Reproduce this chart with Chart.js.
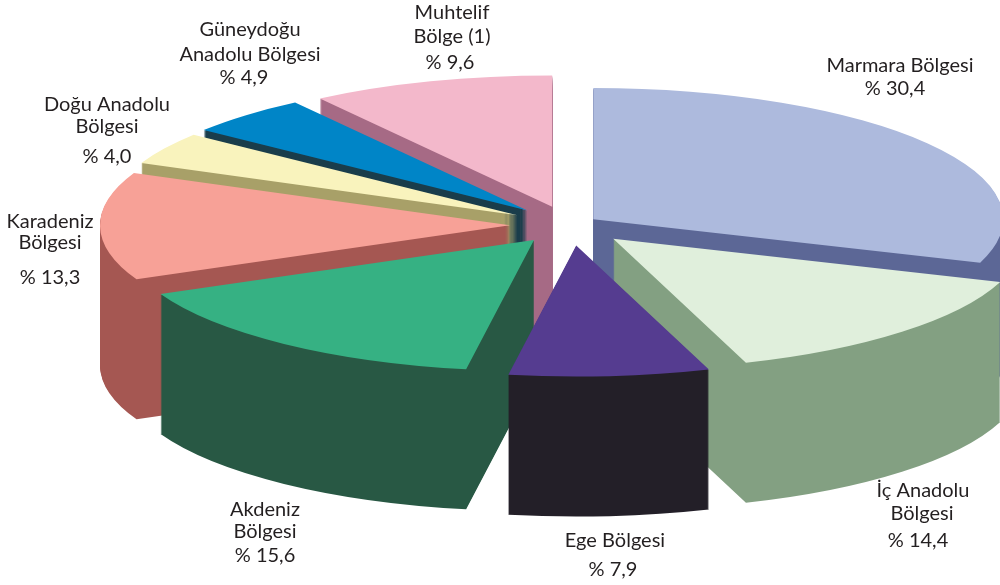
<!DOCTYPE html>
<html>
<head>
<meta charset="utf-8">
<style>html,body{margin:0;padding:0;background:#fff}#wrap{width:1000px;height:585px;position:relative}</style>
<script src="https://cdn.jsdelivr.net/npm/chart.js@4"></script>
</head>
<body>
<div id="wrap"><canvas id="c" width="1000" height="585"></canvas></div>
<script>
const categories = ["Marmara Bölgesi","İç Anadolu Bölgesi","Ege Bölgesi","Akdeniz Bölgesi","Karadeniz Bölgesi","Doğu Anadolu Bölgesi","Güneydoğu Anadolu Bölgesi","Muhtelif Bölge (1)"];
const shares = [30.4,14.4,7.9,15.6,13.3,4.0,4.9,9.6];
const topColors = ["#adbadd","#e0efdc","#553c90","#36b183","#f7a197","#f9f3bd","#0085c7","#f3b8cb"];
const wallColors = ["#5c6796","#83a082","#231f28","#285844","#a55752","#a8a068","#1a3d4b","#a66a85"];
const explode = [31,60,64,59,57,60,62,60];
const nudgeX = [0,3,3,2,-1,1,2,2];
const paintOrder = [0,7,6,5,4,1,3,2];
const labelLines = [
  [["Marmara Bölgesi",900,66],["% 30,4",895,89]],
  [["İç Anadolu",923,491],["Bölgesi",922,514],["% 14,4",918,541]],
  [["Ege Bölgesi",615,541],["% 7,9",613,570]],
  [["Akdeniz",265,510],["Bölgesi",265,532],["% 15,6",265,556]],
  [["Karadeniz",50,222],["Bölgesi",50,243],["% 13,3",50,278]],
  [["Doğu Anadolu",107,105],["Bölgesi",107,127],["% 4,0",107,157]],
  [["Güneydoğu",250,30],["Anadolu Bölgesi",250,55],["% 4,9",244,78]],
  [["Muhtelif",452,13],["Bölge (1)",452,37],["% 9,6",450,63]]
];
const SQUASH = 0.32, DEPTH = 140, RADIUS = 410;

const pie3d = {
  id: "pie3d",
  beforeDatasetDraw(chart, args) {
    const ctx = chart.ctx, arcs = args.meta.data;
    const cy = arcs[0].y;
    const off = document.createElement("canvas");
    off.width = chart.width; off.height = chart.height;
    const octx = off.getContext("2d");
    const place = (c, el, i) => {
      const mid = (el.startAngle + el.endAngle) / 2;
      c.translate(0, cy); c.scale(1, SQUASH); c.translate(0, -cy);
      c.translate(Math.cos(mid) * explode[i] + nudgeX[i], Math.sin(mid) * explode[i]);
    };
    paintOrder.forEach(i => {
      const el = arcs[i], base = el.options;
      const wall = Object.create(base);
      wall.backgroundColor = wallColors[i];
      el.options = wall;
      octx.setTransform(1,0,0,1,0,0);
      octx.globalCompositeOperation = "source-over";
      octx.clearRect(0, 0, off.width, off.height);
      place(octx, el, i);
      for (let d = 1; d <= DEPTH; d++) {
        octx.save(); octx.translate(0, d / SQUASH); el.draw(octx); octx.restore();
      }
      octx.setTransform(1,0,0,1,0,0);
      octx.globalCompositeOperation = "source-in";
      octx.fillStyle = wallColors[i];
      octx.fillRect(0, 0, off.width, off.height);
      ctx.drawImage(off, 0, 0);
      el.options = base;
      ctx.save();
      place(ctx, el, i);
      el.draw(ctx);
      ctx.restore();
    });
    return false;
  },
  afterDraw(chart) {
    const ctx = chart.ctx;
    ctx.save();
    ctx.font = '20px Lato, "Open Sans", sans-serif';
    ctx.fillStyle = "#231f20";
    ctx.textAlign = "center"; ctx.textBaseline = "middle";
    labelLines.forEach(g => g.forEach(([t,x,y]) => ctx.fillText(t,x,y)));
    ctx.restore();
  }
};

new Chart(document.getElementById("c"), {
  type: "pie",
  data: { labels: categories, datasets: [{ data: shares, backgroundColor: topColors, borderWidth: 0 }] },
  options: {
    responsive: false, animation: false,
    radius: RADIUS,
    layout: { padding: { left: 136, bottom: 135 } },
    plugins: { legend: { display: false }, tooltip: { enabled: false } }
  },
  plugins: [pie3d]
});
</script>
</body>
</html>
